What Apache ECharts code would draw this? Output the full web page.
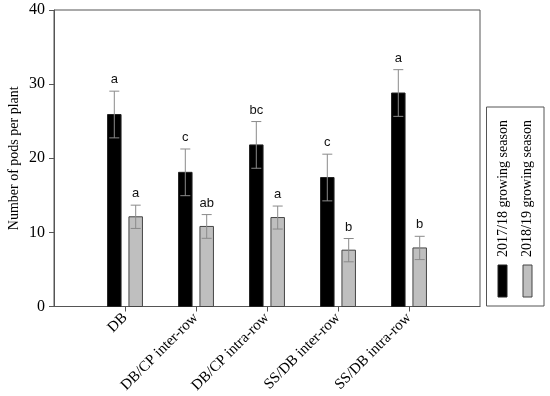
<!DOCTYPE html>
<html>
<head>
<meta charset="utf-8">
<script src="https://cdn.jsdelivr.net/npm/echarts@6/dist/echarts.min.js"></script>
<style>html,body{margin:0;padding:0;background:#fff}#c{width:550px;height:396px}</style>
</head>
<body>
<div id="c"></div>
<script>
var categories = ['DB', 'DB/CP inter-row', 'DB/CP intra-row', 'SS/DB inter-row', 'SS/DB intra-row'];
var seriesNames = ['2017/18 growing season', '2018/19 growing season'];
var means1718 = [25.9, 18.1, 21.8, 17.4, 28.8];
var errs1718 = [3.15, 3.15, 3.15, 3.15, 3.15];
var letters1718 = ['a', 'c', 'bc', 'c', 'a'];
var means1819 = [12.1, 10.8, 12.0, 7.6, 7.9];
var errs1819 = [1.57, 1.6, 1.55, 1.57, 1.57];
var letters1819 = ['a', 'ab', 'a', 'b', 'b'];
var yTicks = [0, 10, 20, 30, 40];

var chart = echarts.init(document.getElementById('c'));

function makeData(means, errs) {
  return means.map(function (m, i) { return [i + 1, m, errs[i]]; });
}

function makeRender(offset, fill, stroke, letters) {
  return function (params, api) {
    var x = api.value(0), y = api.value(1), e = api.value(2);
    var pt = api.coord([x, y]);
    var p0 = api.coord([x, 0]);
    var pu = api.coord([x, y + e]);
    var pd = api.coord([x, y - e]);
    var cx = pt[0] + offset;
    var w = 13.5, cap = 5;
    var ec = '#8a8a8a';
    return {
      type: 'group',
      children: [
        { type: 'rect', shape: { x: cx - w / 2, y: pt[1], width: w, height: p0[1] - pt[1] },
          style: { fill: fill, stroke: stroke, lineWidth: 1 } },
        { type: 'line', shape: { x1: cx, y1: pu[1], x2: cx, y2: pd[1] }, style: { stroke: ec, lineWidth: 1 } },
        { type: 'line', shape: { x1: cx - cap, y1: pu[1], x2: cx + cap, y2: pu[1] }, style: { stroke: ec, lineWidth: 1 } },
        { type: 'line', shape: { x1: cx - cap, y1: pd[1], x2: cx + cap, y2: pd[1] }, style: { stroke: ec, lineWidth: 1 } },
        { type: 'text', x: cx, y: pu[1] - 5,
          style: { text: letters[params.dataIndex], fill: '#111', font: '13px "Liberation Sans", Arial, sans-serif',
                   align: 'center', verticalAlign: 'bottom' } }
      ]
    };
  };
}

var serif = '"Liberation Serif", "Times New Roman", serif';

var option = {
  animation: false,
  backgroundColor: '#fff',
  grid: { left: 54, right: 70, top: 10, bottom: 89.5, show: true, borderColor: '#555', borderWidth: 1,
          containLabel: false, outerBoundsMode: 'none' },
  xAxis: {
    type: 'value', min: 0, max: 6, interval: 1,
    splitLine: { show: false },
    axisLine: { lineStyle: { color: '#555' } },
    axisTick: { show: true, length: 5, customValues: [1, 2, 3, 4, 5], lineStyle: { color: '#555' } },
    axisLabel: {
      customValues: [1, 2, 3, 4, 5], rotate: 45, margin: 9,
      fontFamily: serif, fontSize: 15, color: '#000',
      formatter: function (v) { return categories[Math.round(v) - 1] || ''; }
    }
  },
  yAxis: {
    type: 'value', min: 0, max: 40, interval: 10,
    splitLine: { show: false },
    axisLine: { show: true, lineStyle: { color: '#555' } },
    axisTick: { show: true, length: 5, lineStyle: { color: '#555' } },
    axisLabel: { fontFamily: serif, fontSize: 16, color: '#000', margin: 9,
      customValues: yTicks },
    name: 'Number of pods per plant', nameLocation: 'middle', nameGap: 33, nameMoveOverlap: false,
    nameTextStyle: { fontFamily: serif, fontSize: 14, color: '#000' }
  },
  series: [
    { type: 'custom', name: seriesNames[0], data: makeData(means1718, errs1718),
      renderItem: makeRender(-10.7, '#000', '#222', letters1718) },
    { type: 'custom', name: seriesNames[1], data: makeData(means1819, errs1819),
      renderItem: makeRender(10.7, '#bfbfbf', '#444', letters1819) }
  ],
  graphic: [
    { type: 'rect', shape: { x: 486.5, y: 107, width: 57.5, height: 199 },
      style: { fill: '#fff', stroke: '#555', lineWidth: 1 } },
    { type: 'rect', shape: { x: 498, y: 265, width: 9, height: 32 }, style: { fill: '#000', stroke: '#222' } },
    { type: 'rect', shape: { x: 523, y: 265, width: 9, height: 32 }, style: { fill: '#bfbfbf', stroke: '#444' } },
    { type: 'text', x: 503, y: 257, rotation: Math.PI / 2,
      style: { text: seriesNames[0], font: '14px ' + serif, fill: '#000', align: 'left', verticalAlign: 'middle' } },
    { type: 'text', x: 527.5, y: 257, rotation: Math.PI / 2,
      style: { text: seriesNames[1], font: '14px ' + serif, fill: '#000', align: 'left', verticalAlign: 'middle' } }
  ]
};
chart.setOption(option);
</script>
</body>
</html>
